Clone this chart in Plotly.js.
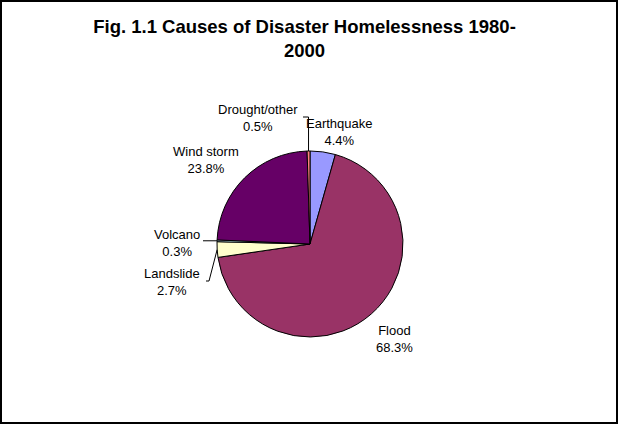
<!DOCTYPE html>
<html>
<head>
<meta charset="utf-8">
<script src="https://cdn.plot.ly/plotly-3.0.1.min.js"></script>
<style>html,body{margin:0;padding:0;background:#fff;}#chart{width:619px;height:425px;}</style>
</head>
<body>
<div id="chart"></div>
<script>
// ---- data ----
const labels = ['Earthquake', 'Flood', 'Landslide', 'Volcano', 'Wind storm', 'Drought/other'];
const values = [4.4, 68.3, 2.7, 0.3, 23.8, 0.5];
const colors = ['#9999FF', '#993366', '#FFFFCC', '#CCFFFF', '#660066', '#FF8080'];
const titleText = 'Fig. 1.1 Causes of Disaster Homelessness 1980-<br>2000';

// ---- layout geometry (pixels) ----
const W = 619, H = 425;
const cx = 310, cy = 244, R = 93;
const px = x => x / W;
const py = y => 1 - y / H;

// label centre positions (pixels), per slice
const labelPos = {
  'Earthquake':    [339, 132],
  'Flood':         [394, 339],
  'Landslide':     [172, 282],
  'Volcano':       [177, 243],
  'Wind storm':    [206, 160],
  'Drought/other': [258, 118]
};

// slice mid-angles from the data (clockwise from 12 o'clock)
const total = values.reduce((a, b) => a + b, 0);
let cum = 0;
const mids = {};
values.forEach((v, i) => {
  mids[labels[i]] = (cum + v / 2) / total * 2 * Math.PI;
  cum += v;
});
const edge = (name, r) => [cx + r * Math.sin(mids[name]), cy - r * Math.cos(mids[name])];

const annotations = labels.map((name, i) => ({
  x: px(labelPos[name][0]), y: py(labelPos[name][1]),
  xref: 'paper', yref: 'paper', xanchor: 'center', yanchor: 'middle',
  text: name + '<br>' + values[i].toFixed(1) + '%',
  showarrow: false,
  font: {family: 'Liberation Sans, Arial, sans-serif', size: 13, color: '#000'}
}));

// leader lines
const dr = edge('Drought/other', R);
const vo = edge('Volcano', R);
const la = edge('Landslide', R);
const pathOf = pts => 'M ' + pts.map(p => px(p[0]) + ' ' + py(p[1])).join(' L ');
const shapes = [
  {type: 'path', xref: 'paper', yref: 'paper', line: {color: '#000', width: 1},
   path: pathOf([dr, [dr[0], 117], [303, 117]])},
  {type: 'path', xref: 'paper', yref: 'paper', line: {color: '#000', width: 1},
   path: pathOf([vo, [203, vo[1]]])},
  {type: 'path', xref: 'paper', yref: 'paper', line: {color: '#000', width: 1},
   path: pathOf([la, [209, 281], [206, 281]])},
  {type: 'rect', xref: 'paper', yref: 'paper', line: {color: '#000', width: 2},
   x0: px(1), x1: px(617), y0: py(423), y1: py(1)}
];

const trace = {
  type: 'pie',
  labels: labels,
  values: values,
  sort: false,
  direction: 'clockwise',
  rotation: 0,
  textinfo: 'none',
  hoverinfo: 'label+percent',
  marker: {colors: colors, line: {color: '#000', width: 1}},
  domain: {x: [px(cx - R), px(cx + R)], y: [py(cy + R), py(cy - R)]},
  showlegend: false
};

const layout = {
  width: W, height: H,
  margin: {l: 0, r: 0, t: 0, b: 0},
  paper_bgcolor: '#fff',
  title: {
    text: titleText,
    x: px(304.5), xanchor: 'center',
    y: py(33), yanchor: 'top',
    font: {family: 'Liberation Sans, Arial, sans-serif', size: 18.5, color: '#000', weight: 'bold'}
  },
  annotations: annotations,
  shapes: shapes,
  showlegend: false
};

Plotly.newPlot('chart', [trace], layout, {displayModeBar: false, staticPlot: true});
</script>
</body>
</html>
